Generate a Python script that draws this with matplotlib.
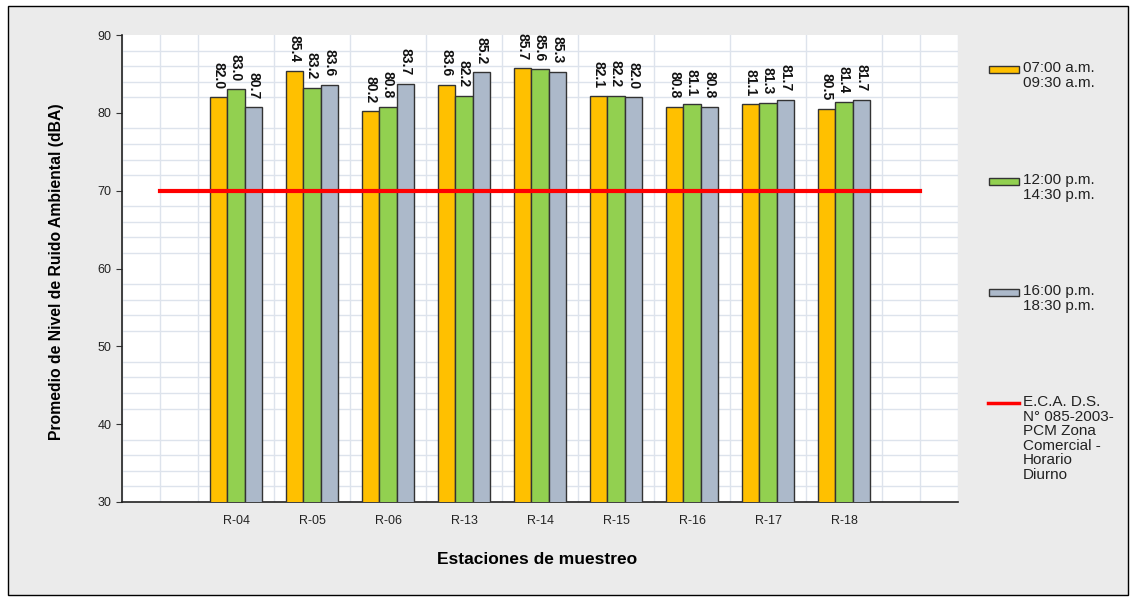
import numpy as np
import matplotlib
matplotlib.use("Agg")
import matplotlib.pyplot as plt
from matplotlib.patches import Rectangle
from matplotlib.lines import Line2D

plt.rcParams['font.family'] = ['Liberation Sans', 'DejaVu Sans']

# puntos de muestreo y niveles promedio (dBA)
estaciones = ['R-04', 'R-05', 'R-06', 'R-13', 'R-14', 'R-15', 'R-16', 'R-17', 'R-18']
manana = [82.0, 85.4, 80.2, 83.6, 85.7, 82.1, 80.8, 81.1, 80.5]
mediodia = [83.0, 83.2, 80.8, 82.2, 85.6, 82.2, 81.1, 81.3, 81.4]
tarde = [80.7, 83.6, 83.7, 85.2, 85.3, 82.0, 80.8, 81.7, 81.7]
turnos = ['07:00 a.m.\n09:30 a.m.', '12:00 p.m.\n14:30 p.m.', '16:00 p.m.\n18:30 p.m.']
eca = 70
eca_label = 'E.C.A. D.S.\nN° 085-2003-\nPCM Zona\nComercial -\nHorario\nDiurno'

colores = ['#FFC000', '#92D050', '#ACB9CA']

fig = plt.figure(figsize=(11.31, 5.99), dpi=100)
fig.patch.set_facecolor('white')
fig.patches.append(Rectangle((8 / 1131, 1 - 595 / 599), 1120 / 1131, 589 / 599,
                             transform=fig.transFigure, facecolor='#ebebeb',
                             edgecolor='black', linewidth=1, zorder=-10))

ax = fig.add_axes([122 / 1131, 1 - 502 / 599, 836 / 1131, 467 / 599])
ax.set_facecolor('white')

x = np.arange(1, len(estaciones) + 1)
w = 0.225
series = [manana, mediodia, tarde]
for i, (vals, col) in enumerate(zip(series, colores)):
    pos = x + (i - 1) * w
    ax.bar(pos, vals, width=w, color=col, edgecolor='#333333', linewidth=1, zorder=3)
    for px, v in zip(pos, vals):
        ax.annotate(f'{v:.1f}', (px, v), xytext=(0, 6), textcoords='offset points',
                    rotation=270, ha='center', va='bottom', fontsize=10,
                    fontweight='bold', color='#111111', zorder=5)

# limite ECA
ax.plot([0, len(estaciones) + 1], [eca, eca], color='#FF0000', linewidth=3, zorder=4)

ax.set_xlim(-0.5, len(estaciones) + 1.5)
ax.set_ylim(30, 90)
ax.set_xticks(x)
ax.set_xticklabels(estaciones, fontsize=9, color='#222222')
ax.set_yticks(np.arange(30, 91, 10))
ax.tick_params(axis='y', labelsize=9, length=4, color='#333333', labelcolor='#222222')
ax.tick_params(axis='x', length=0, pad=9)
ax.set_xticks(np.arange(-0.5, len(estaciones) + 1.6, 0.5), minor=True)
ax.set_yticks(np.arange(30, 91, 2), minor=True)
ax.tick_params(which='minor', length=0)
ax.grid(which='minor', color='#dde3ec', linewidth=1, zorder=0)
ax.set_axisbelow(True)

for s in ['top', 'right']:
    ax.spines[s].set_visible(False)
for s in ['left', 'bottom']:
    ax.spines[s].set_color('#222222')
    ax.spines[s].set_linewidth(1.2)

fig.text(57 / 1131, 1 - 272 / 599, 'Promedio de Nivel de Ruido Ambiental (dBA)',
         rotation=90, ha='center', va='center', fontsize=11.3, fontweight='bold')
fig.text(537 / 1131, 1 - 560 / 599, 'Estaciones de muestreo',
         ha='center', va='center', fontsize=12.5, fontweight='bold')

# leyenda manual
ly = [69, 181, 292]
for yy, col, lab in zip(ly, colores, turnos):
    fig.patches.append(Rectangle((989 / 1131, 1 - (yy + 3.5) / 599), 30 / 1131, 7 / 599,
                                 transform=fig.transFigure, facecolor=col,
                                 edgecolor='#333333', linewidth=1, zorder=3))
    fig.text(1023 / 1131, 1 - (yy - 8) / 599, lab, ha='left', va='top',
             fontsize=11, linespacing=1.05, color='#222222')
fig.lines.append(Line2D([988 / 1131, 1019 / 1131], [1 - 403 / 599, 1 - 403 / 599],
                        transform=fig.transFigure, color='#FF0000', linewidth=2.5))
fig.text(1023 / 1131, 1 - 395 / 599, eca_label, ha='left', va='top',
         fontsize=11, linespacing=1.05, color='#222222')

fig.savefig('out.png', dpi=100, facecolor=fig.get_facecolor())
